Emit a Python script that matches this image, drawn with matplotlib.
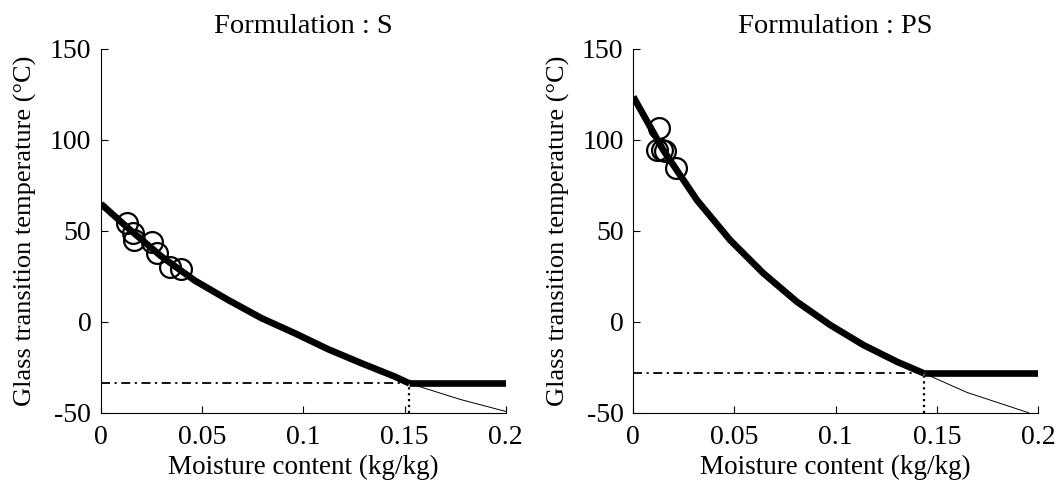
import matplotlib.pyplot as plt
import numpy as np

plt.rcParams['font.family'] = ['Liberation Serif', 'DejaVu Serif']
plt.rcParams['axes.unicode_minus'] = False

# Formulation S
s_curve_x = [0, 0.0135, 0.030, 0.0465, 0.0629, 0.0794, 0.0959, 0.1124, 0.1289, 0.1453, 0.1524]
s_curve_t = [64.7, 51.3, 35.7, 22.5, 11.9, 1.9, -6.4, -15.2, -22.9, -30.2, -33.9]
s_thin_x = [0.1524, 0.1775, 0.2]
s_thin_t = [-33.9, -42.7, -49.3]
s_exp_x = [0.013, 0.016, 0.0165, 0.0254, 0.0275, 0.0341, 0.0394]
s_exp_t = [54.1, 48.6, 44.9, 44.0, 37.9, 30.2, 28.8]
s_tg = -33.9
s_wc = 0.1524

# Formulation PS
ps_curve_x = [0, 0.0148, 0.0314, 0.0478, 0.0643, 0.0808, 0.0973, 0.1137, 0.1303, 0.1437]
ps_curve_t = [123.6, 94.3, 66.9, 44.9, 26.6, 11.0, -1.8, -12.8, -22.0, -28.4]
ps_thin_x = [0.1437, 0.165, 0.1953]
ps_thin_t = [-28.4, -38.9, -50.0]
ps_exp_x = [0.0129, 0.0116, 0.0143, 0.0157, 0.021]
ps_exp_t = [106.6, 94.3, 94.3, 93.8, 84.2]
ps_tg = -28.4
ps_wc = 0.1437

panels = [
    ("S", s_curve_x, s_curve_t, s_thin_x, s_thin_t, s_exp_x, s_exp_t, s_tg, s_wc),
    ("PS", ps_curve_x, ps_curve_t, ps_thin_x, ps_thin_t, ps_exp_x, ps_exp_t, ps_tg, ps_wc),
]

fig = plt.figure(figsize=(10.62, 4.94), dpi=100)
lefts = [101 / 1062, 633.3 / 1062]

for left, (name, cx, ct, tx, tt, ex, et, tg, wc) in zip(lefts, panels):
    ax = fig.add_axes([left, 81.3 / 494, 404.7 / 1062, 364 / 494])
    ax.plot(tx, tt, color='black', lw=0.7)
    ax.plot(cx, ct, color='black', lw=4.8, solid_capstyle='butt')
    ax.plot([wc, 0.2], [tg, tg], color='black', lw=4.8, solid_capstyle='butt')
    ax.plot([0, wc], [tg, tg], color='black', lw=1.3, ls='-.', dashes=(5, 2.5, 1.2, 2.5))
    ax.plot([wc, wc], [-50, tg], color='black', lw=1.6, ls=':')
    ax.plot(ex, et, 'o', mfc='none', mec='black', ms=15, mew=1.6)
    ax.set_xlim(0, 0.2)
    ax.set_ylim(-50, 150)
    ax.set_xticks([0, 0.05, 0.1, 0.15, 0.2])
    ax.set_xticklabels(['0', '0.05', '0.1', '0.15', '0.2'])
    ax.set_yticks([-50, 0, 50, 100, 150])
    ax.spines['top'].set_visible(False)
    ax.spines['right'].set_visible(False)
    ax.tick_params(direction='in', length=5, width=0.8, labelsize=20)
    ax.tick_params(axis='x', pad=9)
    ax.tick_params(axis='y', pad=7)
    ax.set_xlabel("Moisture content (kg/kg)", fontsize=19.5, labelpad=3)
    ax.set_ylabel("Glass transition temperature (°C)", fontsize=19, labelpad=9)
    ax.set_title("Formulation : " + name, fontsize=20.5, pad=11)

plt.savefig("out.png", dpi=100)
